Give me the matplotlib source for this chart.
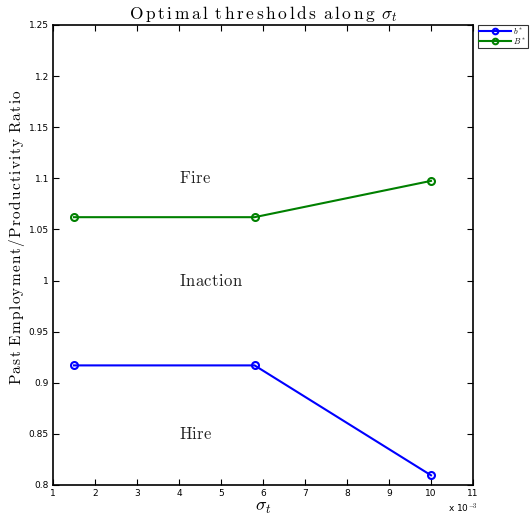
import matplotlib.pyplot as plt
from matplotlib.ticker import FuncFormatter

# sigma_t values (x 10^-3) and thresholds
sigma = [1.5, 5.8, 10.0]
b_star = [0.917, 0.917, 0.8095]
B_star = [1.062, 1.062, 1.0975]

region_labels = ['Fire', 'Inaction', 'Hire']
region_x = [4.0, 4.0, 4.0]
region_y = [1.1, 1.0, 0.85]

plt.rcParams['mathtext.fontset'] = 'cm'


def spaced(s, gap, tail=''):
    # computer modern text with a little letter spacing, like the original
    parts = []
    for ch in s:
        if ch == ' ':
            parts.append(r'\ ')
        else:
            parts.append(r'\mathrm{%s}\hspace{%.3f}' % (ch, gap))
    return '$' + ''.join(parts) + tail + '$'


fig = plt.figure(figsize=(5.3, 5.16), dpi=100)
ax = fig.add_axes([53 / 530, 31 / 516, 420 / 530, 460 / 516])

ax.plot(sigma, b_star, '-o', color='#0000ff', lw=1.5, ms=5, mfc='none', mew=1.5, label='$b^*$')
ax.plot(sigma, B_star, '-o', color='#008000', lw=1.5, ms=5, mfc='none', mew=1.5, label='$B^*$')

for lab, x, y in zip(region_labels, region_x, region_y):
    ax.text(x, y, spaced(lab, 0.03), fontsize=12, ha='left', va='center', color='#222222')

ax.set_xlim(1, 11)
ax.set_ylim(0.8, 1.25)
ax.set_xticks(range(1, 12))
ax.set_yticks([0.8 + 0.05 * i for i in range(10)])
ax.yaxis.set_major_formatter(FuncFormatter(lambda v, p: f'{v:.2f}'.rstrip('0').rstrip('.')))
ax.tick_params(direction='in', top=True, right=True, labelsize=6.5, length=4, pad=3)
for s in ax.spines.values():
    s.set_linewidth(1.2)

ax.set_title(spaced('Optimal thresholds along ', 0.17, r'\sigma_t'), fontsize=12.5, pad=4)
ax.set_ylabel(spaced('Past Employment/Productivity Ratio', 0.1), fontsize=11)
ax.yaxis.set_label_coords(-0.062, 0.54)
ax.set_xlabel(r'$\sigma_t$', fontsize=13, labelpad=0)
ax.text(0.94, -0.05, r'x 10$^{-3}$', transform=ax.transAxes, fontsize=6.5, ha='left', va='center')

leg = ax.legend(loc='upper left', bbox_to_anchor=(1.012, 1.0), fontsize=6, frameon=True,
                fancybox=False, edgecolor='black', handlelength=3.8, borderpad=0.15,
                labelspacing=0.0, handletextpad=0.3, borderaxespad=0, markerscale=0.8)
leg.get_frame().set_linewidth(0.8)

fig.savefig('out.png', dpi=100)
